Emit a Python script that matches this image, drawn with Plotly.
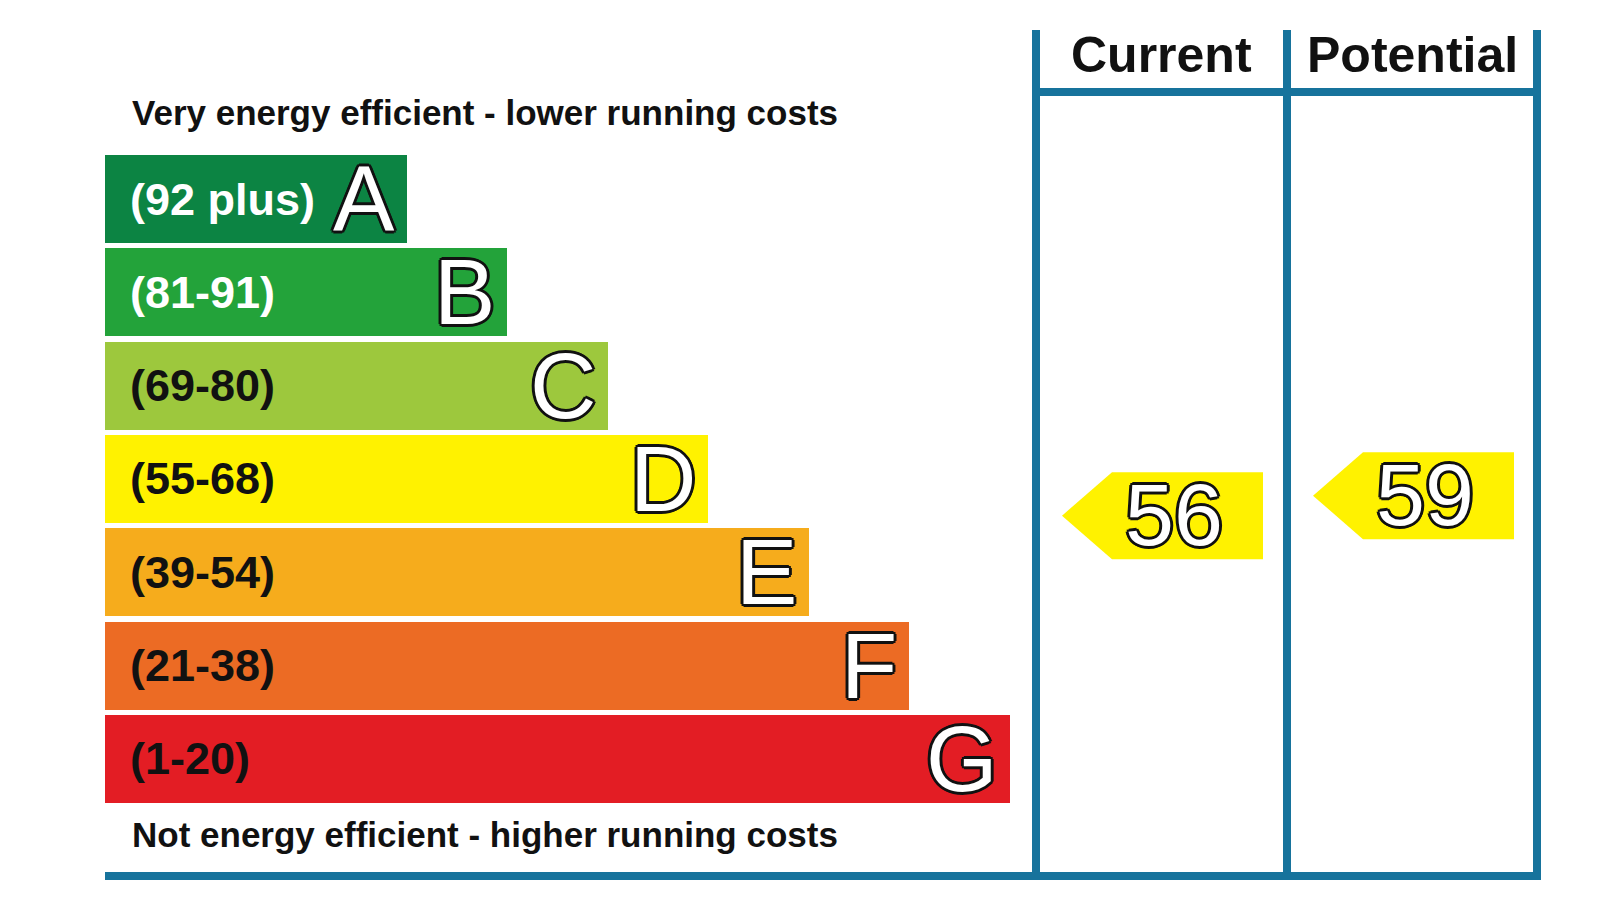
import plotly.graph_objects as go

# energy bands, top (most efficient) to bottom
bands = ["A", "B", "C", "D", "E", "F", "G"]
band_ranges = ["(92 plus)", "(81-91)", "(69-80)", "(55-68)", "(39-54)", "(21-38)", "(1-20)"]
range_lo = [92, 81, 69, 55, 39, 21, 1]
range_hi = [100, 91, 80, 68, 54, 38, 20]
bar_units = [3, 4, 5, 6, 7, 8, 9]
band_colors = ["#0c8443", "#23a33a", "#9dc83d", "#fff200", "#f6ac1c", "#ec6b24", "#e31d24"]
label_colors = ["#ffffff", "#ffffff", "#111111", "#111111", "#111111", "#111111", "#111111"]

columns = ["Current", "Potential"]
ratings = [56, 59]

top_text = "Very energy efficient - lower running costs"
bottom_text = "Not energy efficient - higher running costs"

# layout geometry (pixels of the browser window; page body has an 8px margin)
W, H = 1600, 900
OFF = 8
BAR_X0 = 105
UNIT = 100.5
BAND0 = 199
PITCH = 93.33
BAR_THICK = 88
COL_LINES = [1036, 1287, 1537]
FRAME_TOP, HEAD_Y, FRAME_BOTTOM = 30, 92, 876
LINE_COL = "#17739c"
FONT = "Liberation Sans, Arial, sans-serif"
OUTLINE = ", ".join(f"{dx}px {dy}px 0 #111" for dx, dy in
                    [(-3, 0), (3, 0), (0, -3), (0, 3), (-2, -2), (2, -2), (-2, 2), (2, 2)])


def band_pos(score):
    for i, (lo, hi) in enumerate(zip(range_lo, range_hi)):
        if lo <= score <= hi:
            return i, i + 0.5 - (score - lo + 0.5) / (hi - lo + 1)
    return len(bands) - 1, len(bands) - 1


fig = go.Figure()
fig.add_trace(go.Bar(
    y=list(range(len(bands))), x=[u * UNIT for u in bar_units], base=BAR_X0,
    orientation="h", width=BAR_THICK / PITCH,
    marker=dict(color=band_colors, line_width=0), hoverinfo="skip", showlegend=False,
))

ann = []
for i, (b, r) in enumerate(zip(bands, band_ranges)):
    right = BAR_X0 + bar_units[i] * UNIT
    ann.append(dict(x=BAR_X0 + 23, y=i, xref="x", yref="y", text=r, showarrow=False,
                    xanchor="left", yanchor="middle",
                    font=dict(family=FONT, size=45, color=label_colors[i], weight="bold")))
    ann.append(dict(x=right - 10, y=i, xref="x", yref="y", text=b, showarrow=False,
                    xanchor="right", yanchor="middle",
                    font=dict(family=FONT, size=92, color="#ffffff", shadow=OUTLINE)))

# rating arrows
half = 43.5 / PITCH
for c, (name, score) in enumerate(zip(columns, ratings)):
    bi, yc = band_pos(score)
    tip = COL_LINES[c] + 26
    xs = [tip, tip + 50, tip + 201, tip + 201, tip + 50, tip]
    ys = [yc, yc - half, yc - half, yc + half, yc + half, yc]
    fig.add_trace(go.Scatter(x=xs, y=ys, fill="toself", fillcolor=band_colors[bi],
                             mode="none", hoverinfo="skip", showlegend=False))
    ann.append(dict(x=tip + 112, y=yc - 0.01, xref="x", yref="y", text=str(score), showarrow=False,
                    xanchor="center", yanchor="middle",
                    font=dict(family=FONT, size=88, color="#ffffff", shadow=OUTLINE)))
    ann.append(dict(x=(COL_LINES[c] + COL_LINES[c + 1]) / 2, y=55, xref="x", yref="y2", text=name,
                    showarrow=False, xanchor="center", yanchor="middle",
                    font=dict(family=FONT, size=50, color="#111111", weight="bold")))

ann.append(dict(x=130, y=112, xref="x", yref="y2", text=top_text, showarrow=False,
                xanchor="left", yanchor="middle",
                font=dict(family=FONT, size=35, color="#111111", weight="bold")))
ann.append(dict(x=130, y=834, xref="x", yref="y2", text=bottom_text, showarrow=False,
                xanchor="left", yanchor="middle",
                font=dict(family=FONT, size=35, color="#111111", weight="bold")))

line = dict(color=LINE_COL, width=8)
shapes = [dict(type="line", xref="x", yref="y2", x0=x, x1=x, y0=FRAME_TOP, y1=FRAME_BOTTOM + 4, line=line)
          for x in COL_LINES]
shapes.append(dict(type="line", xref="x", yref="y2", x0=COL_LINES[0], x1=COL_LINES[-1] + 4,
                   y0=HEAD_Y, y1=HEAD_Y, line=line))
shapes.append(dict(type="line", xref="x", yref="y2", x0=BAR_X0, x1=COL_LINES[-1] + 4,
                   y0=FRAME_BOTTOM, y1=FRAME_BOTTOM, line=line))

fig.update_layout(
    width=W, height=H, margin=dict(l=0, r=0, t=0, b=0),
    paper_bgcolor="#ffffff", plot_bgcolor="#ffffff",
    xaxis=dict(range=[OFF, W + OFF], visible=False, fixedrange=True),
    yaxis=dict(range=[(H + OFF - BAND0) / PITCH, (OFF - BAND0) / PITCH], visible=False, fixedrange=True),
    yaxis2=dict(range=[H + OFF, OFF], overlaying="y", visible=False, fixedrange=True),
    annotations=ann, shapes=shapes, bargap=0,
)

fig.write_html("out.html")
